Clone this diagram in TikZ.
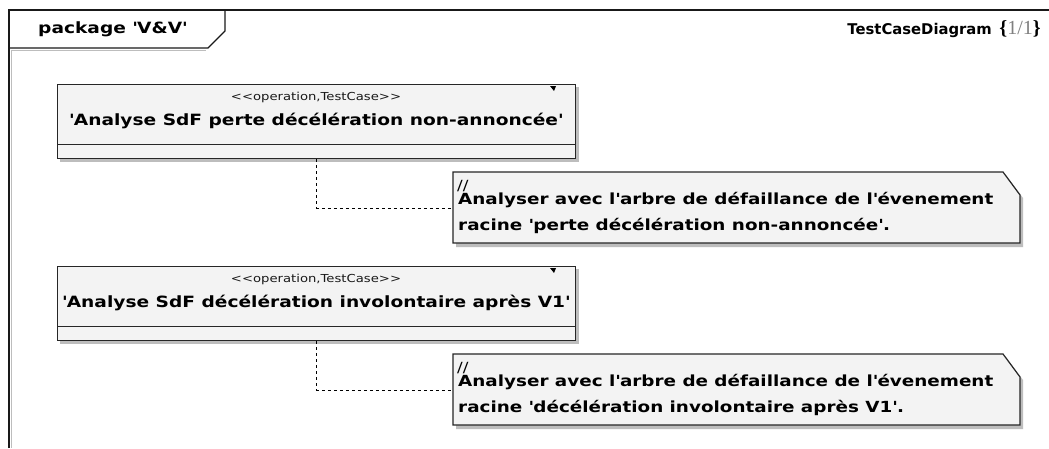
\documentclass[tikz,border=0pt]{standalone}
\usepackage{fontspec}
\setmainfont[FakeStretch=1.2]{DejaVu Sans}
\newfontfamily\plainfont{DejaVu Sans}
\newfontfamily\bracefont{Liberation Serif}
\usetikzlibrary{positioning, calc}

\definecolor{boxgray}{HTML}{F3F3F3}
\definecolor{shadowgray}{HTML}{BDBDBD}
\newcommand\q{\textquotesingle}

\begin{document}
\begin{tikzpicture}[x=1pt,y=-1pt,
    frameline/.style={draw=black!90, line width=1.5pt},
    tcbox/.style={draw=black!85, line width=1.2pt, fill=boxgray, minimum width=518pt, minimum height=74pt, anchor=north west, inner sep=0pt},
    notepath/.style={draw=black!85, line width=1.2pt, fill=boxgray},
    stereo/.style={font=\fontsize{11}{12}\selectfont, text=black!90, inner sep=0pt},
    tcname/.style={font=\bfseries\fontsize{15.5}{19}\selectfont, inner sep=0pt},
    notetext/.style={font=\bfseries\fontsize{15.3}{26}\selectfont, align=left, anchor=west, inner sep=0pt},
    conn/.style={draw=black, line width=1pt, dash pattern=on 3pt off 3pt}]
  \useasboundingbox (0,0) rectangle (1049,448);
  \fill[white] (0,0) rectangle (1049,448);

  % frame with its tab
  \draw[shadowgray, line width=1pt] (11.5,448) -- (11.5,50.5) -- (206,50.5);
  \draw[frameline] (9,448) -- (9,10) -- (1049,10);
  \draw[frameline, line width=1.2pt] (9,48) -- (208,48) -- (225,31) -- (225,10);
  \node[font=\bfseries\fontsize{15.5}{17}\selectfont, anchor=west, inner sep=0pt] (pkg) at (38,29) {package \q V\&V\q};
  \node[anchor=east, inner sep=0pt] (diag) at (1041,29) {{\plainfont\bfseries\fontsize{14.8}{17}\selectfont TestCaseDiagram}\ \ {\bracefont\bfseries\fontsize{20}{17}\selectfont\{{\mdseries\color{gray}1/1}\}}};

  \foreach \i/\dy/\tcn/\evt in {1/0/{perte décélération non-annoncée}/{perte décélération non-annoncée},
                              2/182/{décélération involontaire après V1}/{décélération involontaire après V1}}{
    % test case
    \fill[shadowgray] (60,87+\dy) rectangle (579,162+\dy);
    \node[tcbox] (tc\i) at (57,84+\dy) {};
    \draw[draw=black!85, line width=1.2pt] ($(tc\i.south west)+(0,-15)$) -- ($(tc\i.south east)+(0,-15)$);
    \fill[black] (550,86+\dy) -- (556,86+\dy) -- (554,91+\dy) -- cycle;
    \node[stereo] (st\i) at (316,97+\dy) {\textless\kern0pt\textless\kern0pt operation,TestCase\textgreater\kern0pt\textgreater};
    \node[tcname] (nm\i) at (316,121+\dy) {\q Analyse SdF \tcn\q};
    % note
    \coordinate (nt\i) at (453,208+\dy);
    \fill[shadowgray] (456,175+\dy) -- (1006,175+\dy) -- (1023,198+\dy) -- (1023,247+\dy) -- (456,247+\dy) -- cycle;
    \draw[notepath] (453,172+\dy) -- (1003,172+\dy) -- (1020,195+\dy) -- (1020,243+\dy) -- (453,243+\dy) -- cycle;
    \node[font=\fontsize{14}{14}\selectfont, anchor=west, inner sep=0pt] (sl\i) at (457,186+\dy) {//};
    \node[notetext] (tx\i) at (458,213+\dy) {Analyser avec l\q arbre de défaillance de l\q évenement\\racine \q\evt\q.};
    % anchor link
    \draw[conn] (tc\i.south) |- (nt\i);
  }
\end{tikzpicture}
\end{document}
